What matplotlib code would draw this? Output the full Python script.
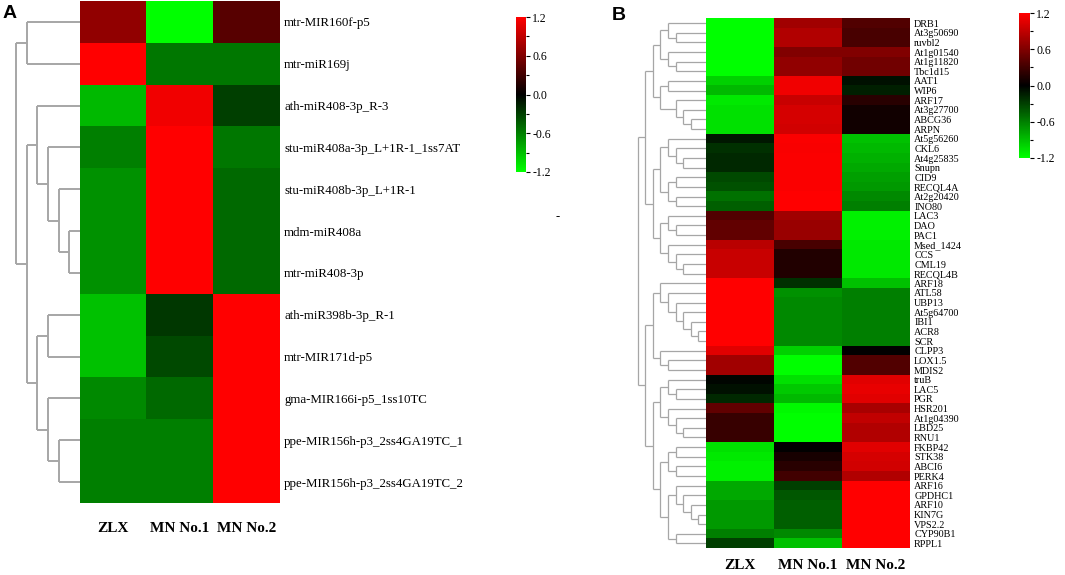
import numpy as np
import matplotlib
matplotlib.use("Agg")
import matplotlib.pyplot as plt
from matplotlib.colors import LinearSegmentedColormap

# samples (columns of both heatmaps)
samples = ["ZLX", "MN No.1", "MN No.2"]

# panel A : miRNAs, z-scores
mirna_names = ["mtr-MIR160f-p5", "mtr-miR169j", "ath-miR408-3p_R-3",
               "stu-miR408a-3p_L+1R-1_1ss7AT", "stu-miR408b-3p_L+1R-1",
               "mdm-miR408a", "mtr-miR408-3p", "ath-miR398b-3p_R-1",
               "mtr-MIR171d-p5", "gma-MIR166i-p5_1ss10TC",
               "ppe-MIR156h-p3_2ss4GA19TC_1", "ppe-MIR156h-p3_2ss4GA19TC_2"]
mirna_values = [[0.68, -1.20, 0.41],
                [1.20, -0.56, -0.56],
                [-0.87, 1.13, -0.30],
                [-0.60, 1.20, -0.56],
                [-0.68, 1.20, -0.49],
                [-0.68, 1.20, -0.49],
                [-0.68, 1.20, -0.49],
                [-0.90, -0.26, 1.20],
                [-0.90, -0.34, 1.20],
                [-0.64, -0.49, 1.20],
                [-0.60, -0.60, 1.20],
                [-0.60, -0.60, 1.20]]

# panel B : target genes
gene_names = ["DRB1", "At3g50690", "ruvbl2", "At1g01540", "At1g11820", "Tbc1d15",
              "AAT1", "WIP6", "ARF17", "At3g27700", "ABCG36", "ARPN",
              "At5g56260", "CKL6", "At4g25835", "Snupn", "CID9", "RECQL4A",
              "At2g20420", "INO80", "LAC3", "DAO", "PAC1", "Msed_1424", "CCS",
              "CML19", "RECQL4B", "ARF18", "ATL58", "UBP13", "At5g64700", "IBI1",
              "ACR8", "SCR", "CLPP3", "LOX1.5", "MDIS2", "truB", "LAC5", "PGR",
              "HSR201", "At1g04390", "LBD25", "RNU1", "FKBP42", "STK38", "ABCI6",
              "PERK4", "ARF16", "GPDHC1", "ARF10", "KIN7G", "VPS2.2", "CYP90B1",
              "RPPL1"]
gene_values = [[-1.20, 0.75, 0.38], [-1.20, 0.83, 0.34], [-1.20, 0.83, 0.34],
               [-1.20, 0.60, 0.60], [-1.20, 0.68, 0.53], [-1.20, 0.68, 0.53],
               [-0.98, 1.13, -0.08], [-0.87, 1.13, -0.15], [-1.09, 0.94, 0.19],
               [-1.05, 1.00, 0.08], [-1.05, 1.00, 0.08], [-1.05, 0.98, 0.08],
               [-0.11, 1.18, -0.90], [-0.23, 1.17, -0.87], [-0.19, 1.18, -0.83],
               [-0.19, 1.18, -0.79], [-0.34, 1.18, -0.75], [-0.38, 1.18, -0.72],
               [-0.53, 1.20, -0.64], [-0.45, 1.20, -0.60], [0.38, 0.75, -1.13],
               [0.45, 0.72, -1.13], [0.45, 0.72, -1.13], [0.87, 0.34, -1.09],
               [0.94, 0.15, -1.09], [0.94, 0.15, -1.09], [0.94, 0.15, -1.09],
               [1.20, -0.23, -0.90], [1.20, -0.68, -0.60], [1.20, -0.64, -0.60],
               [1.20, -0.64, -0.60], [1.20, -0.64, -0.60], [1.20, -0.64, -0.60],
               [1.20, -0.64, -0.60], [1.05, -0.98, 0.00], [0.75, -1.20, 0.38],
               [0.75, -1.20, 0.38], [-0.02, -1.05, 1.05], [-0.08, -0.94, 1.09],
               [-0.19, -0.87, 1.05], [0.45, -1.17, 0.79], [0.26, -1.20, 0.90],
               [0.26, -1.20, 0.83], [0.26, -1.20, 0.83], [-1.05, 0.00, 1.05],
               [-1.09, 0.11, 1.00], [-1.13, 0.19, 0.98], [-1.13, 0.30, 0.83],
               [-0.79, -0.30, 1.20], [-0.79, -0.41, 1.20], [-0.72, -0.45, 1.20],
               [-0.72, -0.45, 1.20], [-0.72, -0.45, 1.20], [-0.60, -0.64, 1.20],
               [-0.30, -0.90, 1.20]]

# row dendrograms: (merge level, left, right), int = row index
tree_a = (6, (5, 0, 1),
          (5, (4, 2, (3, 3, (2, 4, (1, 5, 6)))),
              (4, (3, 7, 8), (3, 9, (2, 10, 11)))))

tree_b = (9,
          (8,
           (7, (6, (5, 0, (4, 1, 2)), (5, 3, (4, 4, 5))),
               (6, (5, 6, 7), (4, 8, (3, 9, (2, 10, 11))))),
           (7, (6, (5, 12, (4, 13, (3, 14, 15))), (5, (4, 16, 17), (4, 18, 19))),
               (6, (5, 20, (4, 21, 22)), (5, 23, (4, 24, (3, 25, 26)))))),
          (8,
           (7, (6, 27, (5, 28, (4, 29, (3, 30, (2, 31, (1, 32, 33)))))),
               (6, 34, (5, 35, 36))),
           (7, (6, (5, 37, (4, 38, 39)), (5, 40, (4, 41, (3, 42, 43)))),
               (6, (5, (4, 44, 45), (4, 46, 47)),
                   (5, (4, 48, (3, 49, (2, 50, (1, 51, 52)))), (4, 53, 54))))))

cbar_ticks = [1.2, 0.6, 0.0, -0.6, -1.2]

W, H = 1065, 575
serif = "Liberation Serif"
cmap = LinearSegmentedColormap.from_list("gkr", ["#00ff00", "#000000", "#ff0000"])


def px_axes(fig, x, y, w, h):
    # axes placed by pixel box (top-left origin)
    return fig.add_axes([x / W, 1 - (y + h) / H, w / W, h / H])


def draw_tree(ax, node, lw):
    if isinstance(node, int):
        return node + 0.5, 0
    level, left, right = node
    yl, hl = draw_tree(ax, left, lw)
    yr, hr = draw_tree(ax, right, lw)
    kw = dict(color="#a6a6a6", lw=lw, solid_capstyle="butt")
    ax.plot([hl, level], [yl, yl], **kw)
    ax.plot([hr, level], [yr, yr], **kw)
    ax.plot([level, level], [yl, yr], **kw)
    return (yl + yr) / 2, level


def heat_panel(fig, values, names, box, dbox, tree, xmax, lw, fs, col_pad, cbox):
    data = np.array(values)
    n = len(names)
    ax = px_axes(fig, *box)
    im = ax.imshow(data, cmap=cmap, vmin=-1.2, vmax=1.2, aspect="auto",
                   interpolation="nearest")
    ax.set_yticks(range(n))
    ax.set_yticklabels(names, fontsize=fs, family=serif)
    ax.yaxis.tick_right()
    ax.set_xticks(range(3))
    ax.set_xticklabels(samples, fontsize=11, family=serif, fontweight="bold")
    ax.tick_params(length=0)
    ax.tick_params(axis="x", pad=col_pad)
    ax.tick_params(axis="y", pad=3)
    for s in ax.spines.values():
        s.set_visible(False)

    dax = px_axes(fig, *dbox)
    draw_tree(dax, tree, lw)
    dax.set_xlim(xmax, 0)
    dax.set_ylim(n, 0)
    dax.axis("off")

    cax = px_axes(fig, *cbox)
    cb = fig.colorbar(im, cax=cax, ticks=cbar_ticks)
    cb.outline.set_visible(False)
    cb.ax.set_yticks([0.9, 0.3, -0.3, -0.9], minor=True)
    cb.ax.set_yticklabels(["%.1f" % t for t in cbar_ticks], family=serif, fontsize=8.5)
    cb.ax.tick_params(which="major", length=3, width=0.8, pad=1.5)
    cb.ax.tick_params(which="minor", length=2.5, width=0.8)
    return ax


fig = plt.figure(figsize=(W / 100, H / 100), dpi=100)

heat_panel(fig, mirna_values, mirna_names, (80, 1, 200, 502), (0, 1, 80, 502),
           tree_a, 7.5, 1.4, 9.3, 14, (516, 17, 10, 155))
heat_panel(fig, gene_values, gene_names, (706, 18.3, 204, 530), (620, 18.3, 86, 530),
           tree_b, 86 / 7.6, 0.9, 7.3, 8, (1019, 13, 11, 145))

fig.text(3 / W, 1 - 14 / H, "A", family="Liberation Sans", fontweight="bold",
         fontsize=14, va="center")
fig.text(612 / W, 1 - 15 / H, "B", family="Liberation Sans", fontweight="bold",
         fontsize=14, va="center")
fig.text(558 / W, 1 - 217 / H, "-", family=serif, fontsize=9, ha="center", va="center")

fig.savefig("out.png", dpi=100)
